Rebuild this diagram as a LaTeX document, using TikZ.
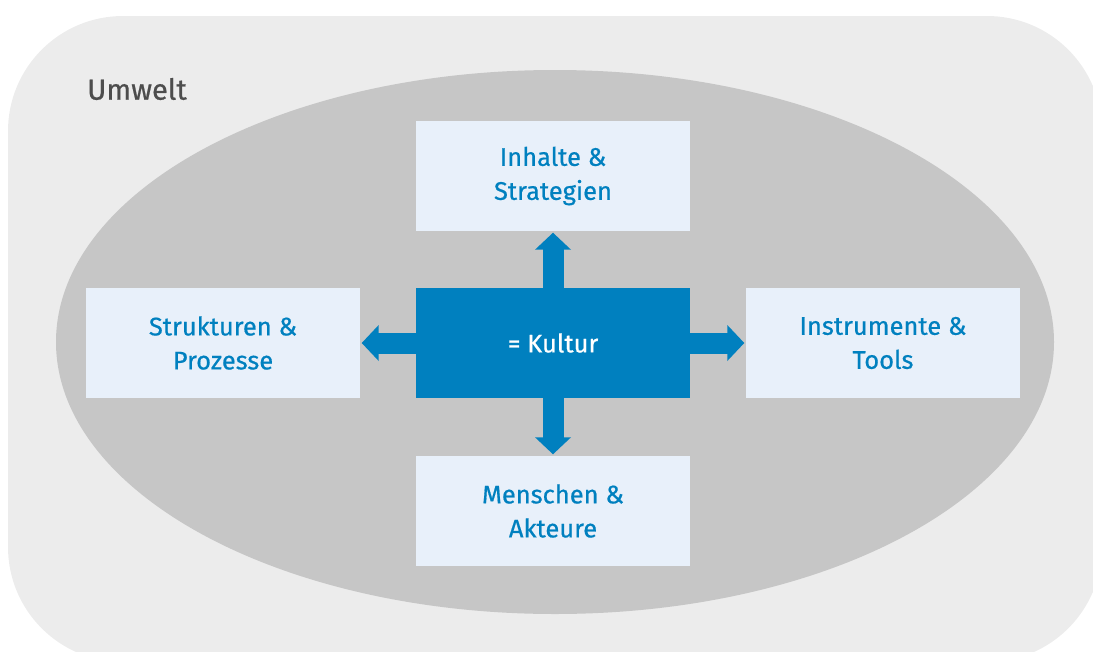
\documentclass[tikz,border=0pt]{standalone}
\usepackage{fontspec}
\setmainfont{Fira Sans}[FakeBold=0.6]
\usetikzlibrary{arrows.meta}
\definecolor{umweltgrau}{HTML}{ECECEC}
\definecolor{ellipsengrau}{HTML}{C6C6C6}
\definecolor{kulturblau}{HTML}{0080BF}
\definecolor{feldblau}{HTML}{E8F0FA}
\definecolor{textgrau}{HTML}{4D4D4D}
\tikzset{
	feld/.style={fill=feldblau, text=kulturblau, minimum width=274pt, minimum height=110pt, inner sep=0pt, align=center, font=\fontsize{25.5}{34}\selectfont},
	pfeil/.style={draw=kulturblau, line width=21pt, -{Triangle[width=35pt,length=17pt]}, shorten >=1.5pt}
}
\begin{document}
\begin{tikzpicture}[x=1pt,y=-1pt]
			\useasboundingbox (0,0) rectangle (1093,651);
			\begin{scope}
			\clip (0,0) rectangle (1093,651);
			\fill[umweltgrau, rounded corners=115pt] (8,16) rectangle (1102,662);
			\end{scope}
			\fill[ellipsengrau] (555,342) ellipse [x radius=499, y radius=272];
			\node[text=textgrau, font=\fontsize{29}{34}\selectfont] (umwelt) at(137,89){Umwelt};
			\node[feld, fill=kulturblau, text=white] (kultur) at(553,343){= Kultur};
			\node[feld] (inhalte) at(553,176){Inhalte \&\\Strategien};
			\node[feld] (strukturen) at(223,343){Strukturen \&\\Prozesse};
			\node[feld] (instrumente) at(883,343){Instrumente \&\\Tools};
			\node[feld] (menschen) at(553,511){Menschen \&\\Akteure};
			\draw[pfeil](kultur.north)--(inhalte.south);
			\draw[pfeil](kultur.south)--(menschen.north);
			\draw[pfeil](kultur.west)--(strukturen.east);
			\draw[pfeil](kultur.east)--(instrumente.west);
			\end{tikzpicture}
\end{document}
